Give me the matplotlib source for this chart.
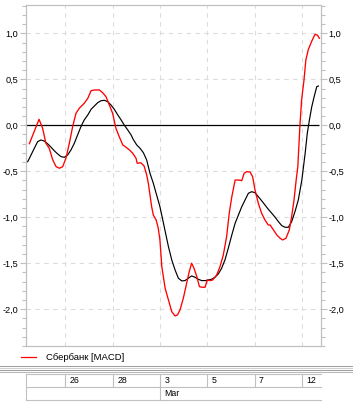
import matplotlib
matplotlib.use("Agg")
import matplotlib.pyplot as plt
from matplotlib.lines import Line2D
from matplotlib.ticker import MultipleLocator, FuncFormatter
from matplotlib import transforms

# ---- data (x = trading-day position, y = MACD value) ----
red_t = [0.48, 0.89, 1.04, 1.18, 1.32, 1.47, 1.61, 1.75, 1.89, 2.03, 2.17, 2.31, 2.45, 2.59,
         2.80, 2.95, 3.09, 3.23, 3.44, 3.58, 3.72, 3.86, 4.00, 4.14, 4.28, 4.43, 4.57, 4.71,
         4.85, 4.99, 5.04, 5.19, 5.33, 5.44, 5.51, 5.58, 5.65, 5.72, 5.84, 5.93, 6.00, 6.08,
         6.22, 6.36, 6.50, 6.64, 6.74, 6.85, 6.99, 7.13, 7.24, 7.34, 7.44, 7.56, 7.67, 7.77,
         7.91, 8.00, 8.12, 8.23, 8.40, 8.54, 8.68, 8.82, 8.93, 9.04, 9.18, 9.32, 9.46, 9.56,
         9.67, 9.81, 9.92, 10.02, 10.16, 10.30, 10.44, 10.58, 10.66, 10.80, 10.94, 11.08,
         11.19, 11.33, 11.47, 11.57, 11.67, 11.76, 11.83, 11.92, 11.99, 12.09, 12.17, 12.27,
         12.41, 12.56, 12.66, 12.74]
red_v = [-0.20, 0.065, -0.033, -0.196, -0.25, -0.377, -0.45, -0.467, -0.45, -0.355, -0.196,
         -0.015, 0.13, 0.185, 0.239, 0.293, 0.376, 0.384, 0.384, 0.354, 0.311, 0.221, 0.13,
         -0.033, -0.124, -0.214, -0.239, -0.268, -0.304, -0.359, -0.413, -0.407, -0.442, -0.54,
         -0.63, -0.758, -0.885, -0.975, -1.029, -1.12, -1.247, -1.537, -1.772, -1.899, -2.026,
         -2.073, -2.062, -2.008, -1.88, -1.717, -1.591, -1.50, -1.554, -1.646, -1.754, -1.761,
         -1.761, -1.682, -1.689, -1.682, -1.627, -1.537, -1.41, -1.211, -0.957, -0.776, -0.595,
         -0.595, -0.602, -0.522, -0.504, -0.508, -0.559, -0.703, -0.848, -0.957, -1.029,
         -1.084, -1.084, -1.138, -1.192, -1.228, -1.247, -1.228, -1.138, -0.993, -0.812,
         -0.595, -0.45, 0.0, 0.275, 0.49, 0.71, 0.82, 0.91, 0.99, 0.98, 0.946]

black_t = [0.41, 0.55, 0.69, 0.83, 0.97, 1.11, 1.26, 1.40, 1.53, 1.68, 1.82, 1.96, 2.10, 2.24,
           2.38, 2.52, 2.66, 2.80, 2.95, 3.09, 3.23, 3.37, 3.51, 3.65, 3.79, 3.93, 4.07, 4.22,
           4.36, 4.49, 4.64, 4.78, 4.875, 5.02, 5.16, 5.30, 5.44, 5.58, 5.72, 5.86, 6.00, 6.12,
           6.21, 6.36, 6.50, 6.64, 6.78, 6.92, 7.06, 7.20, 7.34, 7.48, 7.62, 7.77, 7.91, 8.05,
           8.19, 8.33, 8.47, 8.61, 8.75, 8.89, 9.04, 9.18, 9.32, 9.46, 9.60, 9.74, 9.88, 10.02,
           10.16, 10.30, 10.44, 10.58, 10.73, 10.87, 11.01, 11.15, 11.29, 11.43, 11.57, 11.71,
           11.85, 12.00, 12.14, 12.23, 12.32, 12.42, 12.52, 12.63, 12.70]
black_v = [-0.396, -0.323, -0.25, -0.178, -0.16, -0.171, -0.203, -0.239, -0.276, -0.312,
           -0.341, -0.348, -0.323, -0.268, -0.196, -0.105, -0.015, 0.058, 0.112, 0.174, 0.21,
           0.246, 0.267, 0.272, 0.257, 0.221, 0.174, 0.112, 0.058, 0.003, -0.051, -0.105,
           -0.155, -0.214, -0.25, -0.298, -0.377, -0.522, -0.63, -0.758, -0.885, -1.029,
           -1.138, -1.32, -1.464, -1.573, -1.663, -1.692, -1.689, -1.663, -1.638, -1.652,
           -1.674, -1.689, -1.689, -1.682, -1.674, -1.652, -1.616, -1.554, -1.464, -1.337,
           -1.192, -1.065, -0.975, -0.885, -0.812, -0.739, -0.722, -0.733, -0.776, -0.82,
           -0.866, -0.913, -0.957, -1.0, -1.048, -1.091, -1.109, -1.109, -1.048, -0.939,
           -0.812, -0.595, -0.304, -0.087, 0.058, 0.202, 0.311, 0.42, 0.427]

date_pos = [2, 4, 6, 8, 10, 12]
date_labels = ["26", "28", "3", "5", "7", "12"]
month_pos = [6]
month_labels = ["Mar"]
legend_label = "Сбербанк [MACD]"

# ---- figure ----
W, H = 353, 407
plt.rcParams['font.family'] = ['Liberation Sans', 'DejaVu Sans']
fig = plt.figure(figsize=(W / 100, H / 100), dpi=100)
fig.patch.set_facecolor('white')

def px(y_top):
    return H - y_top

ax = fig.add_axes([26 / W, (H - 346) / H, (321 - 26) / W, (346 - 5) / H])
ax.set_xlim(0.338, 12.81)
ax.set_ylim(-2.40, 1.308)

grey = '#c0c0c0'
for s in ax.spines.values():
    s.set_color(grey)
    s.set_linewidth(0.9)

# grid
ax.set_xticks(date_pos)
ax.tick_params(axis='x', which='both', bottom=False, labelbottom=False)
for t in date_pos:
    ax.axvline(t, color='#dcdcdc', lw=0.8, ls=(0, (4, 4)), zorder=0)
for v in [1.0, 0.5, -0.5, -1.0, -1.5, -2.0]:
    ax.axhline(v, color='#dcdcdc', lw=0.8, ls=(0, (4, 4)), zorder=0)

ax.yaxis.set_major_locator(MultipleLocator(0.5))
ax.yaxis.set_minor_locator(MultipleLocator(0.1))
def fmt(v, pos):
    if abs(v) < 1e-9:
        return "0,0"
    return f"{v:.1f}".replace('.', ',')
ax.yaxis.set_major_formatter(FuncFormatter(fmt))
ax.tick_params(axis='y', which='both', left=True, right=True, labelleft=True,
               labelright=True, colors=grey, direction='out')
ax.tick_params(axis='y', which='major', length=4.2, width=0.8, labelsize=6.6,
               labelcolor='black', pad=1.3)
ax.tick_params(axis='y', which='minor', length=2.6, width=0.8)

# zero line
ax.hlines(0, ax.get_xlim()[0], max(red_t), color='black', lw=0.9, zorder=2)

ax.plot(black_t, black_v, color='black', lw=0.85, zorder=3)
ax.plot(red_t, red_v, color='#ff0000', lw=0.95, zorder=4)

# ---- legend ----
fig.add_artist(Line2D([21, 36], [px(357.3), px(357.3)], color='#ff0000', lw=0.9,
                      transform=transforms.IdentityTransform()))
fig.text(46.5 / W, px(357.3) / H, legend_label, fontsize=6.8, va='center', ha='left')

# ---- separator ----
for y, c in [(365.5, '#a0a0a0'), (367.5, '#d0d0d0'), (369.5, '#a0a0a0'), (371.5, '#b8b8b8')]:
    fig.add_artist(Line2D([0, W], [px(y), px(y)], color=c, lw=0.75,
                          transform=transforms.IdentityTransform()))

# ---- date table ----
tr = transforms.blended_transform_factory(ax.transData, transforms.IdentityTransform())
x0, x1 = ax.get_xlim()
tab_c = '#c0c0c0'
r0, r1, r2 = 374.3, 387.3, 400.0
for y in [r0, r1, r2]:
    fig.add_artist(Line2D([x0, x1], [px(y), px(y)], color=tab_c, lw=0.8, transform=tr))
fig.add_artist(Line2D([x0, x0], [px(r0), px(r2)], color=tab_c, lw=0.8, transform=tr))
for t, lab in zip(date_pos, date_labels):
    fig.add_artist(Line2D([t, t], [px(r0), px(r1)], color=tab_c, lw=0.8, transform=tr))
    fig.text(0, 0, lab, fontsize=6.3, va='center', ha='left',
             transform=transforms.offset_copy(tr, fig=fig, x=4.5, y=0, units='dots'),
             position=(t, px((r0 + r1) / 2)))
for t, lab in zip(month_pos, month_labels):
    fig.add_artist(Line2D([t, t], [px(r1), px(r2)], color=tab_c, lw=0.8, transform=tr))
    fig.text(0, 0, lab, fontsize=6.3, va='center', ha='left',
             transform=transforms.offset_copy(tr, fig=fig, x=4.5, y=0, units='dots'),
             position=(t, px((r1 + r2) / 2)))

fig.savefig('out.png', dpi=100, facecolor='white')
